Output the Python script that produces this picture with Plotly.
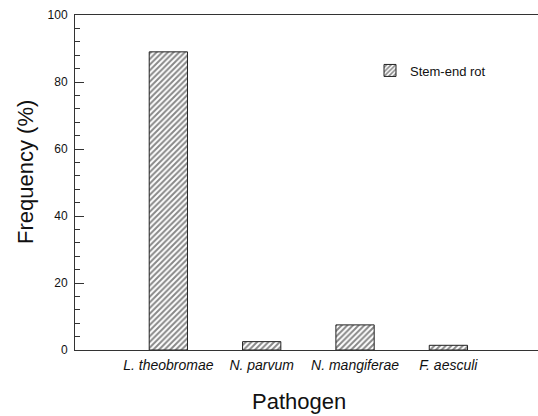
import plotly.graph_objects as go

categories = ["L. theobromae", "N. parvum", "N. mangiferae", "F. aesculi"]
positions = [1, 2, 3, 4]
values = [89.0, 2.5, 7.5, 1.4]
series_name = "Stem-end rot"
tick_labels = ["<i>%s</i>" % c for c in categories]
y_ticks = [0, 20, 40, 60, 80, 100]

W, H = 538, 416
ML, MT, MB = 75, 15, 66
PW, PH = W - ML, H - MT - MB

fig = go.Figure()
fig.add_trace(go.Bar(
    x=positions, y=values, name=series_name, width=0.41,
    marker=dict(color="white", line=dict(color="#222222", width=1),
                pattern=dict(shape="/", size=4, solidity=0.5,
                             fgcolor="#111111", bgcolor="white")),
    showlegend=True,
))

fig.update_layout(
    width=W, height=H,
    margin=dict(l=ML, r=0, t=MT, b=MB, autoexpand=False),
    paper_bgcolor="white", plot_bgcolor="white",
    font=dict(family="Liberation Sans, Arial, sans-serif", color="#111111", size=12),
    showlegend=True,
    legend=dict(x=(370 - ML) / PW, y=(MT + PH - 70.5) / PH, xanchor="left", yanchor="middle",
                bgcolor="rgba(0,0,0,0)", font=dict(size=13)),
    xaxis=dict(range=[0, 4.96], tickvals=positions, ticktext=tick_labels,
               showgrid=False, zeroline=False, showline=True, linecolor="#333333",
               linewidth=1, mirror=True, ticks="", tickfont=dict(size=14),
               ticklabelstandoff=2),
    yaxis=dict(range=[0, 100], tickvals=y_ticks,
               showgrid=False, zeroline=False, showline=True, linecolor="#333333",
               linewidth=1, ticks="inside", ticklen=9, tickcolor="#333333",
               minor=dict(dtick=4, ticks="inside", ticklen=5, tickcolor="#333333"),
               tickfont=dict(size=12), ticklabelstandoff=4),
    annotations=[
        dict(text="Frequency (%)", xref="paper", yref="paper",
             x=(26 - ML) / PW, y=(MT + PH - 172) / PH, xanchor="center", yanchor="middle",
             textangle=-90, showarrow=False, font=dict(size=22)),
        dict(text="Pathogen", xref="paper", yref="paper",
             x=(299 - ML) / PW, y=-37 / PH, xanchor="center", yanchor="top",
             showarrow=False, font=dict(size=22)),
    ],
)

fig.write_html("out.html", config={"displayModeBar": False},
               post_script="document.body.style.margin='0';document.body.style.overflow='hidden';")
